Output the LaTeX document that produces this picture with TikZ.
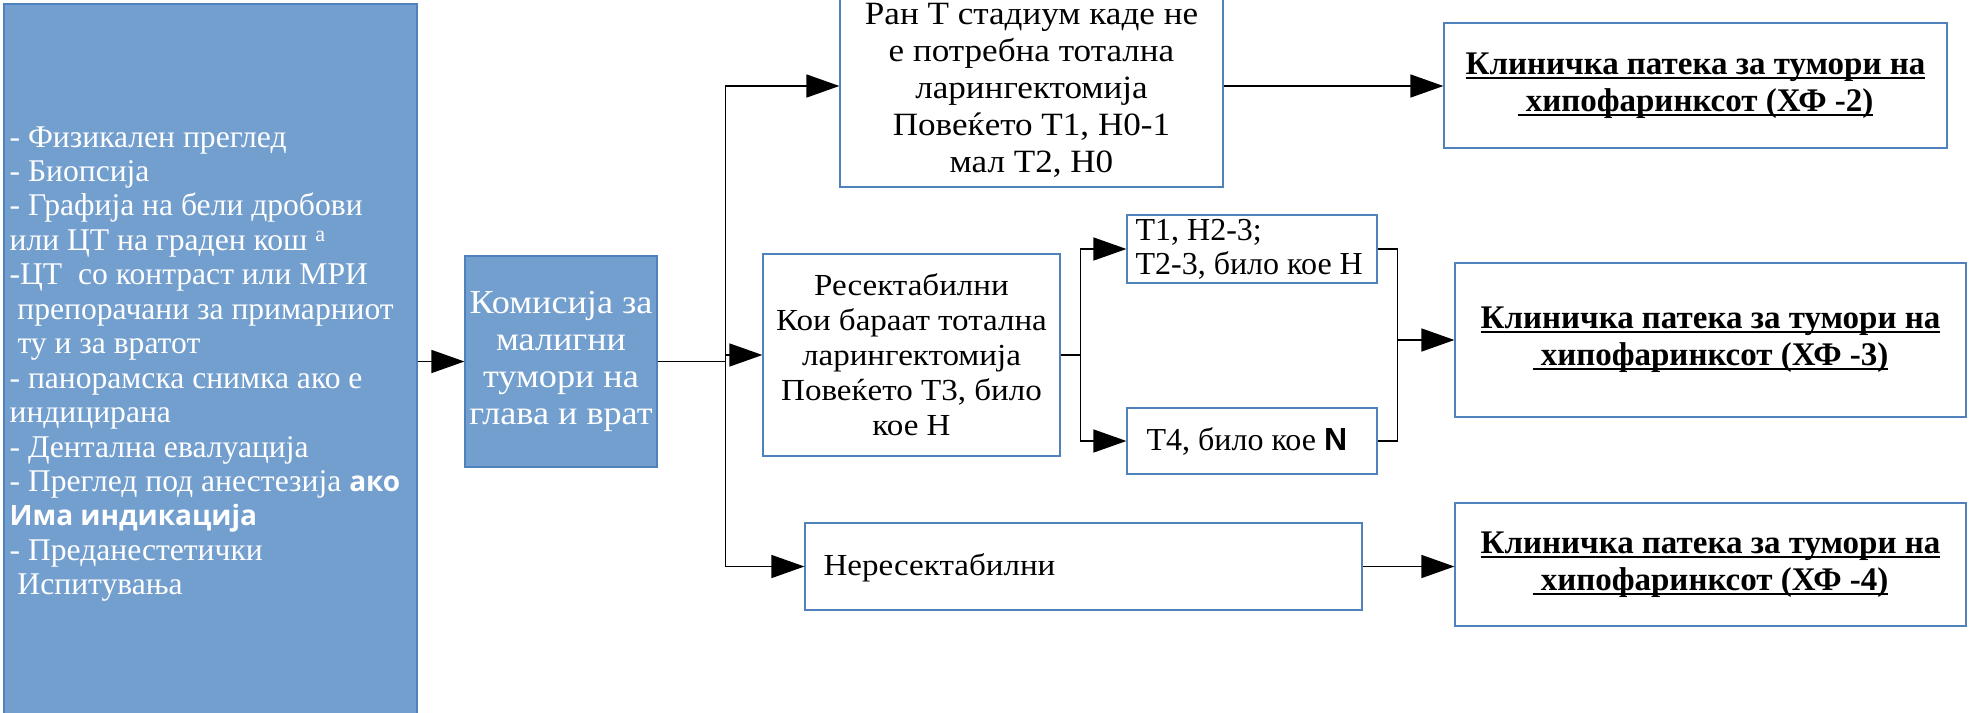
\documentclass[tikz,border=0pt]{standalone}
\usepackage{fontspec}
\setmainfont{Liberation Serif}
\newfontfamily\widefont{Liberation Serif}[FakeStretch=1.08]
\newfontfamily\boldsans{Open Sans}
\newfontfamily\arialf{Liberation Sans}
\newsavebox\ulbox
\newcommand\myul[1]{\sbox\ulbox{#1}\rlap{\rule[-4.5pt]{\wd\ulbox}{2pt}}\usebox\ulbox}
\newcommand\sansbold[1]{{\fontsize{28}{34.5}\boldsans\bfseries #1}}
\usetikzlibrary{arrows.meta}
\definecolor{boxblue}{RGB}{115,159,207}
\definecolor{edgeblue}{RGB}{79,129,189}
\begin{document}
\begin{tikzpicture}[x=1pt,y=-1pt,
  bluebox/.style={draw=edgeblue, line width=1.2pt, fill=boxblue, text=white, inner sep=0pt},
  whitebox/.style={draw=edgeblue, line width=1.2pt, fill=white, inner sep=0pt},
  plaintext/.style={inner sep=0pt, align=left},
  conn/.style={line width=1.5pt, draw=black},
  arr/.style={conn, -{Triangle[length=33pt,width=23pt]}},
  bigfont/.style={font=\widefont\fontsize{33.5}{37.3}\selectfont},
  midfont/.style={font=\widefont\fontsize{30.6}{35}\selectfont},
  smallfont/.style={font=\fontsize{32}{34}\selectfont},
  pathfont/.style={font=\fontsize{33}{37}\selectfont\bfseries},
]
\useasboundingbox (0,0) rectangle (1975,712);
\clip (0,0) rectangle (1975,712);

% nodes
\node[bluebox, minimum width=413pt, minimum height=714pt] (exam) at (210.5,361) {};
\node[plaintext, text=white, anchor=west, font=\fontsize{31.6}{34.45}\selectfont] (examtxt)
  at ([xshift=6pt,yshift=-3pt]exam.west) {%
- Физикален преглед\\
- Биопсија\\
- Графија на бели дробови\\
или ЦТ на граден кош \textsuperscript{a}\\
-ЦТ~~со контраст или МРИ\\
~препорачани за примарниот\\
~ту и за вратот\\
- панорамска снимка ако е\\
индицирана\\
- Дентална евалуација\\
- Преглед под анестезија \sansbold{ако}\\
\sansbold{Има индикација}\\
- Преданестетички\\
~Испитувања};

\node[bluebox, bigfont, minimum width=192pt, minimum height=211pt, align=center] (kom) at (561,361.5)
  {Комисија за\\малигни\\тумори на\\глава и врат};

\node[whitebox, minimum width=383pt, minimum height=202pt] (ran) at (1031.5,86) {};
\node[inner sep=0pt, align=center, font=\widefont\fontsize{32.5}{37}\selectfont] (rantxt) at ([yshift=-4pt]ran.center)
  {Ран Т стадиум каде не\\е потребна тотална\\ларингектомија\\Повеќето Т1, Н0-1\\мал Т2, Н0};

\node[whitebox, midfont, minimum width=297pt, minimum height=202pt, align=center] (res) at (911.5,355)
  {Ресектабилни\\Кои бараат тотална\\ларингектомија\\Повеќето Т3, било\\кое Н};

\node[whitebox, minimum width=557pt, minimum height=87pt] (neres) at (1083.5,566.5) {};
\node[plaintext, midfont, anchor=west] (nerestxt) at ([xshift=19pt,yshift=-1pt]neres.west) {Нересектабилни};

\node[whitebox, minimum width=250pt, minimum height=68pt] (t1) at (1252,249) {};
\node[plaintext, smallfont, anchor=west] (t1txt) at ([xshift=9pt]t1.west) {Т1, Н2-3;\\Т2-3, било кое Н};

\node[whitebox, minimum width=250pt, minimum height=66pt] (t4) at (1252,441) {};
\node[plaintext, smallfont, anchor=west] (t4txt) at ([xshift=20pt,yshift=-1pt]t4.west) {Т4, било кое {\arialf\bfseries N}};

\node[whitebox, pathfont, minimum width=503pt, minimum height=125pt, align=center] (kp2) at (1695.5,85.5)
  {\myul{Клиничка патека за тумори на}\\\myul{~хипофаринксот (ХФ -2)}};
\node[whitebox, pathfont, minimum width=511pt, minimum height=154pt, align=center] (kp3) at (1710.5,340)
  {\myul{Клиничка патека за тумори на}\\\myul{~хипофаринксот (ХФ -3)}};
\node[whitebox, pathfont, minimum width=511pt, minimum height=123pt, align=center] (kp4) at (1710.5,564.5)
  {\myul{Клиничка патека за тумори на}\\\myul{~хипофаринксот (ХФ -4)}};

% connectors
\draw[arr] (exam.east |- kom.west) -- (kom.west);
\path (kom.east) ++(68,0) coordinate (tr);
\draw[conn] (kom.east) -- (tr);
\draw[arr] (tr) |- (ran.west);
\draw[arr] (tr) |- (neres.west);
\draw[arr] (res.west -| tr) -- (res.west);

\path (res.east) ++(20,0) coordinate (sp);
\draw[conn] (res.east) -- (sp);
\draw[arr] (sp) |- (t1.west);
\draw[arr] (sp) |- (t4.west);

\path (t1.east |- kp3.west) ++(20,0) coordinate (jn);
\draw[conn] (t1.east) -| (jn) |- (t4.east);
\draw[arr] (jn) -- (kp3.west);

\draw[arr] (ran.east) -- (kp2.west |- ran.east);
\draw[arr] (neres.east) -- (kp4.west |- neres.east);
\end{tikzpicture}
\end{document}
